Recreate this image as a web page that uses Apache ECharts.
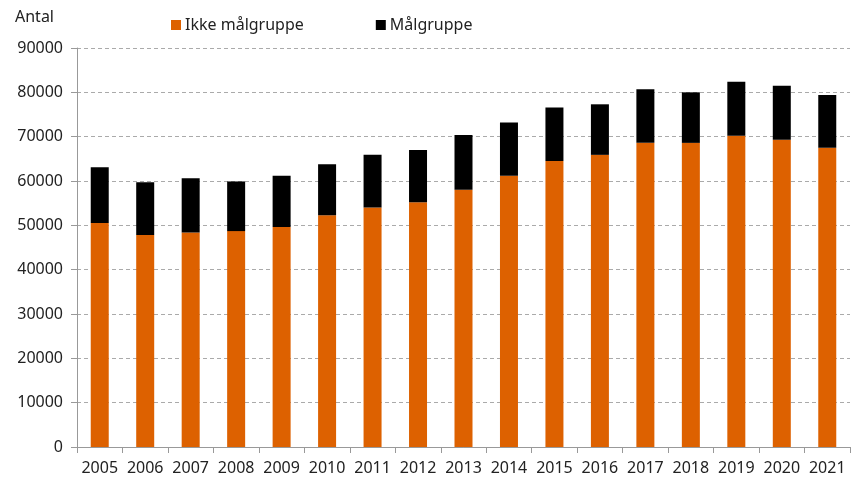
<!DOCTYPE html>
<html>
<head>
<meta charset="utf-8">
<script src="https://cdn.jsdelivr.net/npm/echarts@6/dist/echarts.min.js"></script>
<style>
  html, body { margin: 0; padding: 0; background: #fff; }
  #chart { width: 853px; height: 482px; }
</style>
</head>
<body>
<div id="chart"></div>
<script>
const years = ['2005', '2006', '2007', '2008', '2009', '2010', '2011', '2012', '2013',
  '2014', '2015', '2016', '2017', '2018', '2019', '2020', '2021'];
const ikkeMaalgruppe = [50500, 47800, 48400, 48700, 49600, 52300, 54000, 55200, 58000,
  61200, 64500, 65900, 68600, 68600, 70200, 69300, 67500];
const maalgruppe = [12600, 11900, 12200, 11200, 11600, 11500, 11900, 11800, 12400,
  12000, 12100, 11400, 12100, 11400, 12200, 12200, 11900];

const font = 'Noto Sans';
const chart = echarts.init(document.getElementById('chart'));

const option = {
  animation: false,
  title: {
    text: 'Antal',
    left: 10,
    top: 4,
    textStyle: { fontFamily: font, fontSize: 16, fontWeight: 'normal', color: '#222' }
  },
  legend: {
    left: 166,
    top: 12,
    itemWidth: 10,
    itemHeight: 10,
    itemGap: 72,
    icon: 'rect',
    textStyle: { fontFamily: font, fontSize: 16, color: '#222', padding: [0, 0, 0, -1] },
    data: ['Ikke målgruppe', 'Målgruppe']
  },
  grid: { left: 77, right: 3, top: 48, bottom: 35 },
  xAxis: {
    type: 'category',
    data: years,
    axisLine: { lineStyle: { color: '#999' } },
    axisTick: { show: true, length: 6, lineStyle: { color: '#999' } },
    axisLabel: { interval: 0, fontFamily: font, fontSize: 16, color: '#222', margin: 13 }
  },
  yAxis: {
    type: 'value',
    min: 0,
    max: 90000,
    interval: 10000,
    axisLine: { show: true, lineStyle: { color: '#999' } },
    axisTick: { show: true, length: 6, lineStyle: { color: '#999' } },
    axisLabel: {
      fontFamily: font, fontSize: 16, color: '#222', margin: 14,
      formatter: v => String(v)
    },
    splitLine: { lineStyle: { color: '#aaa', type: [4, 3] } }
  },
  series: [
    {
      name: 'Ikke målgruppe',
      type: 'bar',
      stack: 'total',
      barWidth: 18,
      itemStyle: { color: '#DD6100' },
      data: ikkeMaalgruppe
    },
    {
      name: 'Målgruppe',
      type: 'bar',
      stack: 'total',
      barWidth: 18,
      itemStyle: { color: '#000' },
      data: maalgruppe
    }
  ]
};

chart.setOption(option);
</script>
</body>
</html>
